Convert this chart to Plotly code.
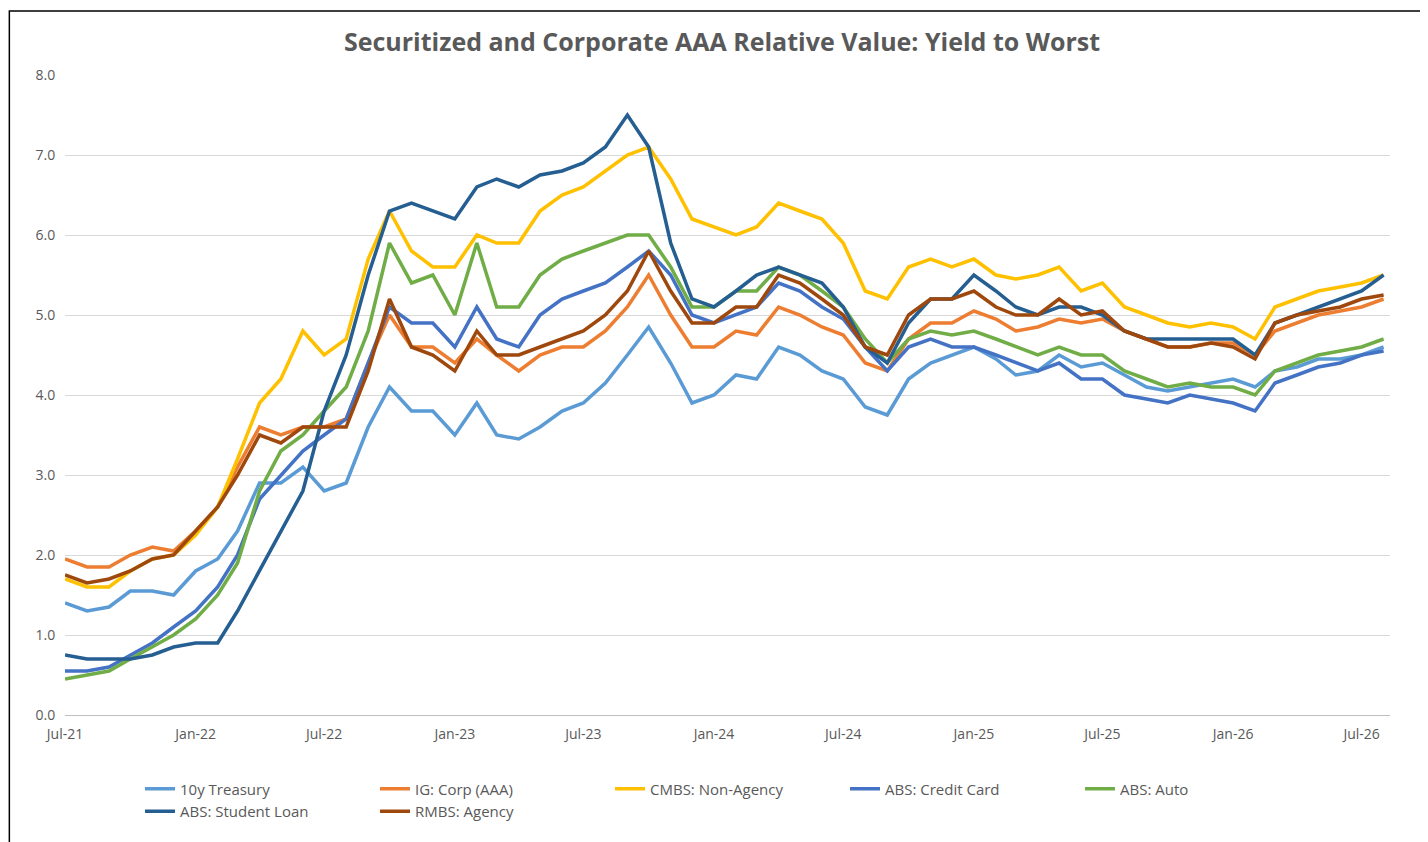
import plotly.graph_objects as go
import pandas as pd

treasury = [1.4,1.3,1.35,1.55,1.55,1.5,1.8,1.95,2.3,2.9,2.9,3.1,2.8,2.9,3.6,4.1,3.8,3.8,3.5,3.9,3.5,3.45,3.6,3.8,3.9,4.15,4.5,4.85,4.4,3.9,4.0,4.25,4.2,4.6,4.5,4.3,4.2,3.85,3.75,4.2,4.4,4.5,4.6,4.45,4.25,4.3,4.5,4.35,4.4,4.25,4.1,4.05,4.1,4.15,4.2,4.1,4.3,4.35,4.45,4.45,4.5,4.6]
ig_corp = [1.95,1.85,1.85,2.0,2.1,2.05,2.3,2.6,3.1,3.6,3.5,3.6,3.6,3.7,4.4,5.0,4.6,4.6,4.4,4.7,4.5,4.3,4.5,4.6,4.6,4.8,5.1,5.5,5.0,4.6,4.6,4.8,4.75,5.1,5.0,4.85,4.75,4.4,4.3,4.7,4.9,4.9,5.05,4.95,4.8,4.85,4.95,4.9,4.95,4.8,4.7,4.6,4.6,4.65,4.65,4.5,4.8,4.9,5.0,5.05,5.1,5.2]
cmbs = [1.7,1.6,1.6,1.8,1.95,2.0,2.25,2.6,3.2,3.9,4.2,4.8,4.5,4.7,5.7,6.3,5.8,5.6,5.6,6.0,5.9,5.9,6.3,6.5,6.6,6.8,7.0,7.1,6.7,6.2,6.1,6.0,6.1,6.4,6.3,6.2,5.9,5.3,5.2,5.6,5.7,5.6,5.7,5.5,5.45,5.5,5.6,5.3,5.4,5.1,5.0,4.9,4.85,4.9,4.85,4.7,5.1,5.2,5.3,5.35,5.4,5.5]
credit_card = [0.55,0.55,0.6,0.75,0.9,1.1,1.3,1.6,2.0,2.7,3.0,3.3,3.5,3.7,4.4,5.1,4.9,4.9,4.6,5.1,4.7,4.6,5.0,5.2,5.3,5.4,5.6,5.8,5.5,5.0,4.9,5.0,5.1,5.4,5.3,5.1,4.95,4.6,4.3,4.6,4.7,4.6,4.6,4.5,4.4,4.3,4.4,4.2,4.2,4.0,3.95,3.9,4.0,3.95,3.9,3.8,4.15,4.25,4.35,4.4,4.5,4.55]
auto = [0.45,0.5,0.55,0.7,0.85,1.0,1.2,1.5,1.9,2.8,3.3,3.5,3.8,4.1,4.8,5.9,5.4,5.5,5.0,5.9,5.1,5.1,5.5,5.7,5.8,5.9,6.0,6.0,5.6,5.1,5.1,5.3,5.3,5.6,5.5,5.3,5.1,4.7,4.4,4.7,4.8,4.75,4.8,4.7,4.6,4.5,4.6,4.5,4.5,4.3,4.2,4.1,4.15,4.1,4.1,4.0,4.3,4.4,4.5,4.55,4.6,4.7]
student_loan = [0.75,0.7,0.7,0.7,0.75,0.85,0.9,0.9,1.3,1.8,2.3,2.8,3.8,4.5,5.5,6.3,6.4,6.3,6.2,6.6,6.7,6.6,6.75,6.8,6.9,7.1,7.5,7.1,5.9,5.2,5.1,5.3,5.5,5.6,5.5,5.4,5.1,4.6,4.4,4.9,5.2,5.2,5.5,5.3,5.1,5.0,5.1,5.1,5.0,4.8,4.7,4.7,4.7,4.7,4.7,4.5,4.9,5.0,5.1,5.2,5.3,5.5]
rmbs = [1.75,1.65,1.7,1.8,1.95,2.0,2.3,2.6,3.0,3.5,3.4,3.6,3.6,3.6,4.3,5.2,4.6,4.5,4.3,4.8,4.5,4.5,4.6,4.7,4.8,5.0,5.3,5.8,5.3,4.9,4.9,5.1,5.1,5.5,5.4,5.2,5.0,4.6,4.5,5.0,5.2,5.2,5.3,5.1,5.0,5.0,5.2,5.0,5.05,4.8,4.7,4.6,4.6,4.65,4.6,4.45,4.9,5.0,5.05,5.1,5.2,5.25]

series = [
    ("10y Treasury", treasury, "#5B9BD5"),
    ("IG: Corp (AAA)", ig_corp, "#ED7D31"),
    ("CMBS: Non-Agency", cmbs, "#FFC000"),
    ("ABS: Credit Card", credit_card, "#4472C4"),
    ("ABS: Auto", auto, "#70AD47"),
    ("ABS: Student Loan", student_loan, "#255E91"),
    ("RMBS: Agency", rmbs, "#9E480E"),
]

fig = go.Figure()
for name, vals, color in series:
    dates = pd.date_range("2021-07-01", periods=len(vals), freq="MS")
    fig.add_trace(go.Scatter(x=dates, y=vals, name=name, mode="lines",
                             line=dict(color=color, width=3.5)))

fig.update_layout(
    width=1428, height=842,
    paper_bgcolor="white", plot_bgcolor="white",
    font=dict(family="Open Sans, sans-serif", size=15, color="#595959"),
    title=dict(text="<b>Securitized and Corporate AAA Relative Value: Yield to Worst</b>",
               x=0.5, y=0.97, xanchor="center", font=dict(size=25, color="#595959")),
    margin=dict(l=57, r=46, t=67, b=135),
    showlegend=True,
    legend=dict(orientation="h", x=0.5, xanchor="center", y=-0.09, yanchor="top",
                entrywidth=190, font=dict(size=15, color="#595959")),
    xaxis=dict(range=["2021-07-01", "2026-08-10"], tickformat="%b-%y", dtick="M6",
               tick0="2021-07-01", showgrid=False, showline=True, linecolor="#bfbfbf",
               ticks="outside", ticklen=6, tickcolor="white", tickfont=dict(size=14)),
    yaxis=dict(range=[0, 8], dtick=1, tickformat=".1f", gridcolor="#d9d9d9",
               zeroline=False, ticks="outside", ticklen=6, tickcolor="white",
               tickfont=dict(size=14)),
    shapes=[dict(type="rect", xref="paper", yref="paper", x0=-0.042, y0=-0.207,
                 x1=1.033, y1=1.1, line=dict(color="black", width=1.5))],
)

fig.write_html("out.html")
